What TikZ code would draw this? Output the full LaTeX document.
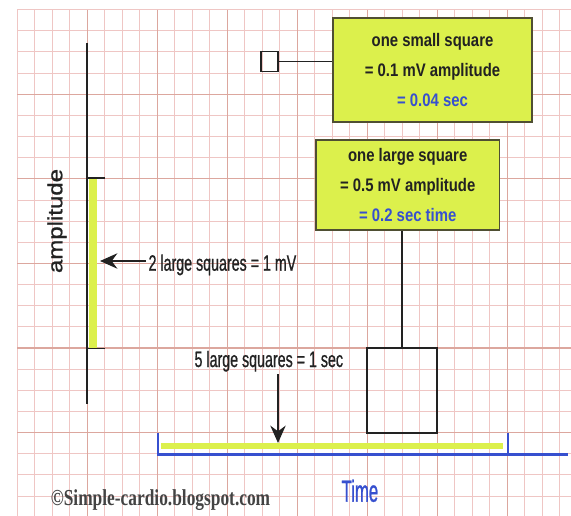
\documentclass[tikz,border=0pt]{standalone}
\usepackage{fontspec}
\setmainfont{Liberation Sans}
\newfontfamily\boxfont[FakeStretch=0.82]{Liberation Sans}
\newfontfamily\narrowfont[FakeStretch=0.64, FakeBold=0.8]{Liberation Sans}
\newfontfamily\ampfont[FakeBold=0.9]{Liberation Sans}
\newfontfamily\timefont[FakeStretch=0.55, FakeBold=0.8]{Liberation Sans}
\newfontfamily\creditfont[FakeStretch=0.76]{Liberation Serif}
\usetikzlibrary{arrows.meta}
\definecolor{grid-thin}{HTML}{EFC6C4}
\definecolor{grid-thick}{HTML}{DCA79E}
\definecolor{mark-yellow}{HTML}{DCF04C}
\definecolor{box-edge}{HTML}{4F4F33}
\definecolor{time-blue}{HTML}{3750CF}
\definecolor{label-grey}{HTML}{222222}

\begin{document}
\begin{tikzpicture}[x=0.03cm, y=-0.03cm, every node/.style={text=label-grey, inner sep=2pt},
    infobox/.style={draw=box-edge, line width=1.5pt, fill=mark-yellow, align=center,
      font=\boxfont\bfseries\fontsize{15.5}{25.5}\selectfont},
    narrowlabel/.style={font=\narrowfont\fontsize{19}{22}\selectfont, anchor=base west},
    pointer/.style={label-grey, line width=1.7pt, -{Stealth[length=0.52cm, width=0.46cm]}}]
    \fill[white] (0,0) rectangle (571,516);
    \useasboundingbox (0,0) rectangle (571,516);

    % ecg paper
    \foreach \k in {-4,...,27}
      \draw[grid-thin, line width=0.7pt] ({87.3+17.5*\k},9.6) -- ({87.3+17.5*\k},516);
    \foreach \k in {-4,...,20}
      \draw[grid-thin, line width=0.7pt] (17.3,{94.2+21.15*\k}) -- (571,{94.2+21.15*\k});
    \foreach \k in {0,...,6}
      \draw[grid-thick, line width=1pt] ({87.3+70*\k},9.6) -- ({87.3+70*\k},516);
    \foreach \k in {0,...,5}
      \draw[grid-thick, line width=1pt] (17.3,{94.2+84.6*\k}) -- (571,{94.2+84.6*\k});

    % amplitude axis
    \draw[mark-yellow, line width=6pt] (93,179) -- (93,348);
    \draw[label-grey, line width=1.9pt] (87.3,43) -- (87.3,404);
    \draw[label-grey, line width=1.6pt] (87.3,178.3) -- (105,178.3);
    \draw[label-grey, line width=1.6pt] (87.3,348.5) -- (105,348.5);
    \node[rotate=90, font=\ampfont\fontsize{20.5}{24}\selectfont] (amplabel) at (57,221) {\scalebox{1}[0.85]{amplitude}};

    % time axis
    \draw[mark-yellow, line width=5.6pt] (161,446) -- (503,446);
    \draw[time-blue, line width=2.3pt] (158,433.3) -- (158,454.3) -- (568,454.3);
    \draw[time-blue, line width=2pt] (507.7,433.3) -- (507.7,454.3);
    \node[font=\timefont\fontsize{26}{30}\selectfont, text=time-blue, anchor=base west] (timelabel) at (339,501.7) {Time};

    \node[narrowlabel] (mvlabel) at (146,270.7) {2 large squares = 1 mV};
    \coordinate (mvtip) at (100,261);
    \draw[pointer] (mvlabel.west |- mvtip) -- (mvtip);

    \node[narrowlabel] (seclabel) at (192,367) {5 large squares = 1 sec};
    \coordinate (sectip) at (278,443);
    \draw[pointer] (seclabel.south -| sectip) -- (sectip);

    % one small and one large square
    \node[draw=label-grey, line width=1.5pt, minimum width=0.5cm, minimum height=0.6cm] (smallsq) at (269.5,61.5) {};
    \node[infobox, minimum width=5.97cm, minimum height=3.12cm] (box1) at (432.5,70)
      {one small square\\= 0.1 mV amplitude\\\textcolor{time-blue}{= 0.04 sec}};
    \draw[label-grey, line width=1.5pt] (smallsq.east) -- (smallsq.east -| box1.west);

    \node[draw=label-grey, line width=1.7pt, minimum width=2.1cm, minimum height=2.535cm] (bigsq) at (402.3,390.7) {};
    \node[infobox, minimum width=5.5cm, minimum height=2.7cm] (box2) at (407.7,185)
      {one large square\\= 0.5 mV amplitude\\\textcolor{time-blue}{= 0.2 sec time}};
    \draw[label-grey, line width=1.5pt] (bigsq.north) -- (bigsq.north |- box2.south);

    \node[font=\creditfont\bfseries\fontsize{19.5}{22}\selectfont, text=label-grey!85!white, anchor=base] (credit) at (160.5,505.5) {©Simple-cardio.blogspot.com};
\end{tikzpicture}
\end{document}
